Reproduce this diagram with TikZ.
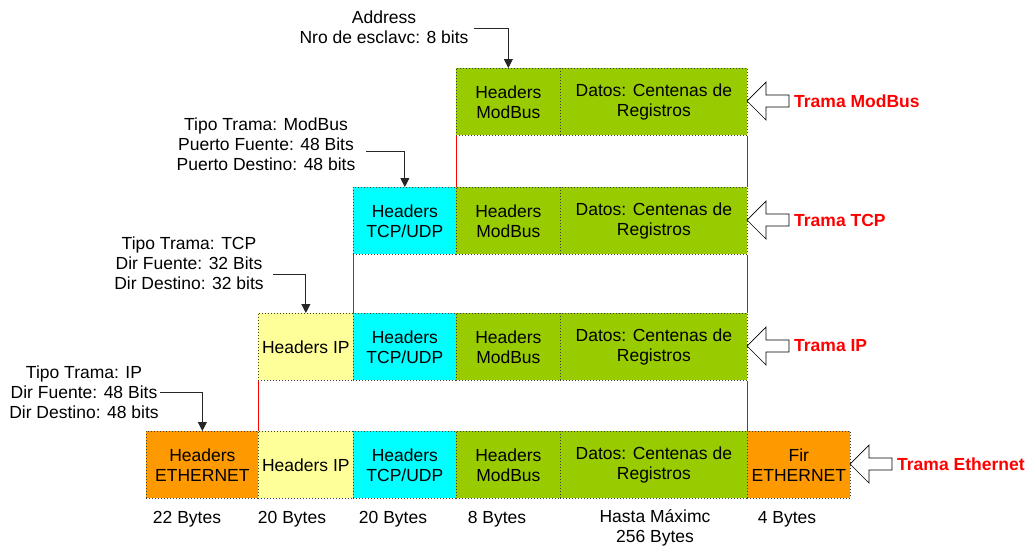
\documentclass[tikz,border=0pt]{standalone}
\usepackage{fontspec}
\setmainfont{Liberation Sans}
\usetikzlibrary{arrows.meta}
\definecolor{cgreen}{HTML}{99CC00}
\definecolor{ccyan}{HTML}{00FFFF}
\definecolor{cyellow}{HTML}{FFFF99}
\definecolor{corange}{HTML}{FF9900}
\definecolor{cred}{HTML}{FF0000}
\definecolor{cborder}{HTML}{404030}
\begin{document}
\begin{tikzpicture}[x=1pt,y=-1pt,
  every node/.style={font=\fontsize{17.5}{19.8}\selectfont},
  cell/.style={draw=cborder, dash pattern=on 1pt off 2pt, line width=0.7pt, anchor=north west,
    minimum height=67pt, inner sep=0pt, align=center},
  note/.style={align=center, inner sep=2pt},
  bytes/.style={align=center, inner sep=0pt},
  trama/.style={anchor=west, text=cred, font=\fontsize{17.5}{20}\selectfont\bfseries, inner sep=0pt},
  redline/.style={draw=cred, line width=0.8pt},
  callout/.style={draw=black!85, line width=0.8pt, -{Triangle[length=9pt,width=9pt]}},
  hollow/.style={draw=black, line width=0.7pt, fill=white}
]
\useasboundingbox (0,0) rectangle (1031,547);

% Row ModBus
\node[cell, fill=cgreen, minimum width=104pt] (m_h) at (456,68) {Headers\\ModBus};
\node[cell, fill=cgreen, minimum width=187pt] (m_d) at (560,68) {Datos: Centenas de\\Registros};

% Row TCP
\node[cell, fill=ccyan, minimum width=103pt] (t_t) at (353,187) {Headers\\TCP/UDP};
\node[cell, fill=cgreen, minimum width=104pt] (t_h) at (456,187) {Headers\\ModBus};
\node[cell, fill=cgreen, minimum width=187pt] (t_d) at (560,187) {Datos: Centenas de\\Registros};

% Row IP
\node[cell, fill=cyellow, minimum width=95pt] (i_i) at (258,313) {Headers IP};
\node[cell, fill=ccyan, minimum width=103pt] (i_t) at (353,313) {Headers\\TCP/UDP};
\node[cell, fill=cgreen, minimum width=104pt] (i_h) at (456,313) {Headers\\ModBus};
\node[cell, fill=cgreen, minimum width=187pt] (i_d) at (560,313) {Datos: Centenas de\\Registros};

% Row Ethernet
\node[cell, fill=corange, minimum width=112pt] (e_e) at (146,431) {Headers\\ETHERNET};
\node[cell, fill=cyellow, minimum width=95pt] (e_i) at (258,431) {Headers IP};
\node[cell, fill=ccyan, minimum width=103pt] (e_t) at (353,431) {Headers\\TCP/UDP};
\node[cell, fill=cgreen, minimum width=104pt] (e_h) at (456,431) {Headers\\ModBus};
\node[cell, fill=cgreen, minimum width=187pt] (e_d) at (560,431) {Datos: Centenas de\\Registros};
\node[cell, fill=corange, minimum width=103pt] (e_f) at (747,431) {Fir\\ETHERNET};

% red guide lines
\draw[redline] (m_h.south west) -- (t_h.north west);
\draw[redline] (m_d.south east) -- (t_d.north east);
\draw[redline] (t_t.south west) -- (i_t.north west);
\draw[redline] (t_d.south east) -- (i_d.north east);
\draw[redline] (i_i.south west) -- (e_i.north west);
\draw[redline] (i_d.south east) -- (e_d.north east);

% annotations
\node[note] (n_addr) at (384,27) {Address\\Nro de esclavc: 8 bits};
\coordinate (c_addr) at (474,28);
\draw[callout] (c_addr) -| (m_h.north);

\node[note] (n_tcp) at (266,144) {Tipo Trama: ModBus\\Puerto Fuente: 48 Bits\\Puerto Destino: 48 bits};
\coordinate (c_tcp) at (366,151);
\draw[callout] (c_tcp) -| (t_t.north);

\node[note] (n_ip) at (189,263) {Tipo Trama: TCP\\Dir Fuente: 32 Bits\\Dir Destino: 32 bits};
\coordinate (c_ip) at (273,274);
\draw[callout] (c_ip) -| (i_i.north);

\node[note] (n_eth) at (84,392) {Tipo Trama: IP\\Dir Fuente: 48 Bits\\Dir Destino: 48 bits};
\coordinate (c_eth) at (160,392);
\draw[callout] (c_eth) -| (e_e.north);

% hollow arrows and labels
\foreach \ax/\ay/\lab/\nm in {747/101/Trama ModBus/tm, 747/220/Trama TCP/tt, 747/346/Trama IP/ti, 850/464/Trama Ethernet/te}{
  \coordinate (a\nm) at (\ax,\ay);
  \draw[hollow] (a\nm) -- ++(19,-19) -- ++(0,13) -- ++(23,0) -- ++(0,12) -- ++(-23,0) -- ++(0,13) -- cycle;
  \node[trama] (l\nm) at (\ax+47,\ay) {\lab};
}

% byte labels
\node[bytes] (b1) at (187,519) {22 Bytes};
\node[bytes] (b2) at (292,519) {20 Bytes};
\node[bytes] (b3) at (393,519) {20 Bytes};
\node[bytes] (b4) at (497,519) {8 Bytes};
\node[bytes] (b5) at (655,528) {Hasta Máximc\\256 Bytes};
\node[bytes] (b6) at (787,519) {4 Bytes};
\end{tikzpicture}
\end{document}
